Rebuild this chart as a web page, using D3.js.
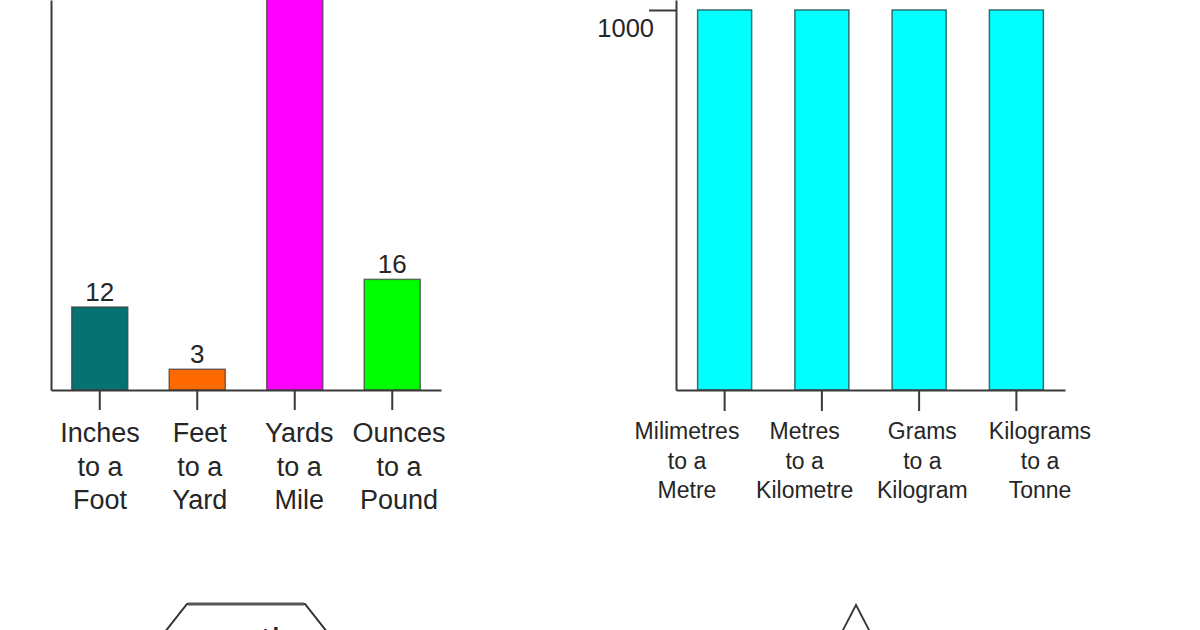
<!DOCTYPE html>
<html>
<head>
<meta charset="utf-8">
<script src="https://cdn.jsdelivr.net/npm/d3@7"></script>
<style>
  html, body { margin: 0; padding: 0; background: #fff; }
  svg { display: block; }
  text { font-family: "Liberation Sans", Arial, Helvetica, sans-serif; fill: #262626; }
</style>
</head>
<body>
<svg id="chart" width="1200" height="630"></svg>
<script>
// ---- data ----
const imperialCategories = ["Inches to a Foot", "Feet to a Yard", "Yards to a Mile", "Ounces to a Pound"];
const imperialLabelLines = [["Inches", "to a", "Foot"], ["Feet", "to a", "Yard"], ["Yards", "to a", "Mile"], ["Ounces", "to a", "Pound"]];
const imperialValues = [12, 3, 1760, 16];
const imperialColors = ["#077272", "#ff6a00", "#ff00ff", "#00ff00"];

const metricCategories = ["Milimetres to a Metre", "Metres to a Kilometre", "Grams to a Kilogram", "Kilograms to a Tonne"];
const metricLabelLines = [["Milimetres", "to a", "Metre"], ["Metres", "to a", "Kilometre"], ["Grams", "to a", "Kilogram"], ["Kilograms", "to a", "Tonne"]];
const metricValues = [1000, 1000, 1000, 1000];
const metricColor = "#00ffff";
const metricTicks = [1000];

// ---- drawing ----
const svg = d3.select("#chart");
const baseY = 390;
const axisColor = "#3a3a3a";

// Left panel (imperial)
const xL = d3.scaleBand().domain(imperialCategories).range([51, 441]).paddingInner(0.425).paddingOuter(0.2125);
const yL = d3.scaleLinear().domain([0, 56.4]).range([baseY, 0]);
// category labels are laid out on their own, slightly wider spacing
const lblL = d3.scalePoint().domain(imperialCategories).range([100, 399]);

const gL = svg.append("g");
gL.selectAll("rect.bar").data(imperialValues).join("rect")
  .attr("class", "bar")
  .attr("x", (d, i) => xL(imperialCategories[i]))
  .attr("width", xL.bandwidth())
  .attr("y", d => yL(d))
  .attr("height", d => yL(0) - yL(d))
  .attr("fill", (d, i) => imperialColors[i])
  .attr("stroke", "#3b3b3b")
  .attr("stroke-opacity", 0.7)
  .attr("stroke-width", 1.5);

// value labels (the one for the tall bar lies above the visible area, as in the source)
gL.selectAll("text.val").data(imperialValues.map((v, i) => ({ v, i })).filter(d => yL(d.v) - 30 > 0)).join("text")
  .attr("class", "val")
  .attr("x", d => xL(imperialCategories[d.i]) + xL.bandwidth() / 2)
  .attr("y", d => yL(d.v) - 6)
  .attr("text-anchor", "middle")
  .attr("font-size", 26)
  .text(d => d.v);

gL.append("g").attr("transform", `translate(0,${baseY})`)
  .call(d3.axisBottom(xL).tickSize(20).tickSizeOuter(0).tickFormat(""));
gL.append("g").attr("transform", "translate(51,0)")
  .call(d3.axisLeft(yL).tickValues([]).tickSizeOuter(0));

imperialLabelLines.forEach((lines, i) => {
  const cx = lblL(imperialCategories[i]);
  const t = gL.append("text")
    .attr("text-anchor", "middle")
    .attr("font-size", 27)
    .attr("x", cx)
    .attr("y", 442);
  lines.forEach((ln, j) => {
    t.append("tspan").attr("x", cx).attr("dy", j === 0 ? 0 : 33.5).text(ln);
  });
});

// Right panel (metric)
const xR = d3.scaleBand().domain(metricCategories).range([676, 1065]).paddingInner(0.445).paddingOuter(0.2225);
const yR = d3.scaleLinear().domain([0, 1026.3]).range([baseY, 0]);
const lblR = d3.scalePoint().domain(metricCategories).range([687, 1040]);

const gR = svg.append("g");
gR.selectAll("rect.bar").data(metricValues).join("rect")
  .attr("class", "bar")
  .attr("x", (d, i) => xR(metricCategories[i]))
  .attr("width", xR.bandwidth())
  .attr("y", d => yR(d))
  .attr("height", d => yR(0) - yR(d))
  .attr("fill", metricColor)
  .attr("stroke", "#2f6f6f")
  .attr("stroke-width", 1.5);

gR.append("g").attr("transform", `translate(0,${baseY})`)
  .call(d3.axisBottom(xR).tickSize(21).tickSizeOuter(0).tickFormat(""));
const ayR = gR.append("g").attr("transform", "translate(676,0)")
  .call(d3.axisLeft(yR).tickValues(metricTicks).tickFormat(d3.format("d")).tickSize(27).tickSizeOuter(0));
ayR.selectAll(".tick text")
  .attr("x", -22)
  .attr("dy", "0")
  .attr("y", 27)
  .attr("font-size", 25.5)
  .attr("font-family", null)
  .attr("fill", "#262626");

metricLabelLines.forEach((lines, i) => {
  const cx = lblR(metricCategories[i]);
  const t = gR.append("text")
    .attr("text-anchor", "middle")
    .attr("font-size", 23)
    .attr("x", cx)
    .attr("y", 439);
  lines.forEach((ln, j) => {
    t.append("tspan").attr("x", cx).attr("dy", j === 0 ? 0 : 29.5).text(ln);
  });
});

// axis styling
svg.selectAll(".domain, .tick line")
  .attr("stroke", axisColor)
  .attr("stroke-width", 2);
svg.selectAll(".tick text").filter(function () { return this.textContent === ""; }).remove();

// Decorative shapes from the diagram below (partially visible at the bottom edge)
const hexagon = [[187, 604], [305, 604], [335, 642], [305, 680], [187, 680], [157, 642]];
svg.append("path")
  .attr("d", d3.line()(hexagon) + "Z")
  .attr("fill", "none")
  .attr("stroke", "#333")
  .attr("stroke-width", 2);
svg.append("line").attr("x1", 188).attr("x2", 304).attr("y1", 604).attr("y2", 604)
  .attr("stroke", "#555").attr("stroke-width", 3);
svg.append("text")
  .attr("x", 246).attr("y", 645)
  .attr("text-anchor", "middle")
  .attr("font-size", 24)
  .attr("font-weight", "bold")
  .attr("letter-spacing", 3)
  .text("month");

const triangle = [[856, 605], [882, 655], [830, 655]];
svg.append("path")
  .attr("d", d3.line()(triangle) + "Z")
  .attr("fill", "none")
  .attr("stroke", "#333")
  .attr("stroke-width", 1.8);
</script>
</body>
</html>
